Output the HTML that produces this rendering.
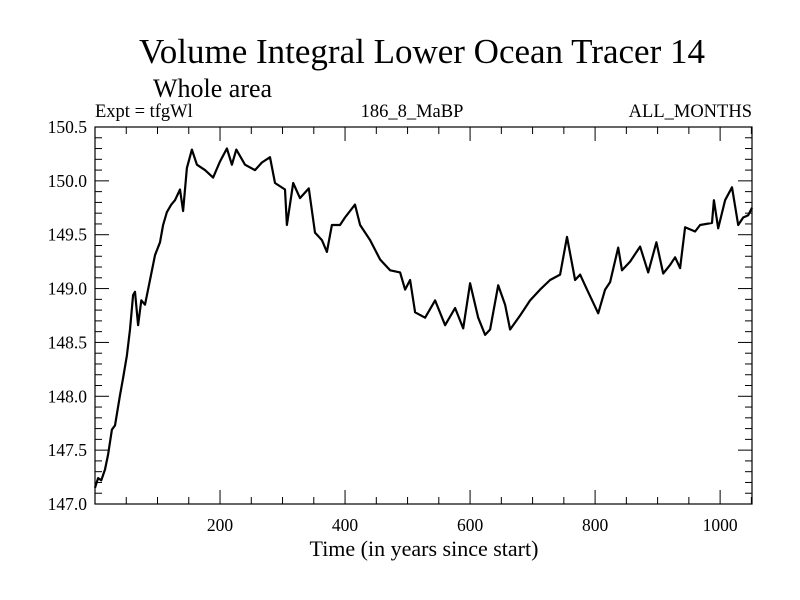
<!DOCTYPE html>
<html><head><meta charset="utf-8"><style>
html,body{margin:0;padding:0;background:#fff;}
svg{display:block;font-family:"Liberation Serif",serif;}
</style></head><body>
<svg id="chart" width="800" height="600" xmlns="http://www.w3.org/2000/svg">
<text x="422" y="63" font-size="35" text-anchor="middle">Volume Integral Lower Ocean Tracer 14</text>
<text x="153" y="97" font-size="26">Whole area</text>
<text x="95" y="117" font-size="18.5">Expt = tfgWl</text>
<text x="412" y="117" font-size="18.5" text-anchor="middle">186_8_MaBP</text>
<text x="752" y="117" font-size="18.5" text-anchor="end">ALL_MONTHS</text>
<text x="424" y="556" font-size="22" text-anchor="middle">Time (in years since start)</text>
<g id="axes"></g>
<path id="series" fill="none" stroke="#000" stroke-width="2.2" stroke-linejoin="round"/>
<rect x="95" y="127" width="657" height="377" fill="none" stroke="#000" stroke-width="1.2"/>
</svg>
<script>
const years=[0,5,10,16,21,27,32,40,45,51,56,61,64,69,74,80,88,96,104,109,115,122,128,136,141,147,155,163,176,189,200,211,219,226,240,256,267,280,288,304,307,317,328,342,352,363,371,379,392,400,416,424,440,456,472,488,496,504,512,528,544,560,576,589,600,613,624,632,645,656,664,680,696,712,728,744,755,768,776,787,805,816,824,837,843,856,872,885,898,909,920,928,936,944,960,968,987,990,997,1008,1019,1029,1037,1045,1051];
const values=[147.15,147.24,147.22,147.32,147.46,147.69,147.73,148.01,148.17,148.38,148.62,148.94,148.97,148.66,148.89,148.85,149.08,149.31,149.43,149.59,149.71,149.78,149.82,149.92,149.72,150.12,150.29,150.15,150.10,150.03,150.18,150.30,150.15,150.29,150.15,150.10,150.17,150.22,149.98,149.92,149.59,149.98,149.84,149.93,149.52,149.45,149.34,149.59,149.59,149.66,149.78,149.59,149.45,149.27,149.17,149.15,148.99,149.08,148.78,148.73,148.89,148.66,148.82,148.63,149.05,148.73,148.57,148.62,149.03,148.85,148.62,148.75,148.89,148.99,149.08,149.13,149.48,149.08,149.13,148.99,148.77,148.99,149.06,149.38,149.17,149.25,149.39,149.15,149.43,149.14,149.22,149.29,149.19,149.57,149.53,149.59,149.61,149.82,149.56,149.82,149.94,149.59,149.66,149.68,149.75];
const xTickLabels=[200,400,600,800,1000];
const yTickLabels=[147.0,147.5,148.0,148.5,149.0,149.5,150.0,150.5];
const X0=95,X1=752,Y0=504,Y1=127,XMIN=0,XMAX=1051,YMIN=147,YMAX=150.5;
const sx=v=>X0+(v-XMIN)/(XMAX-XMIN)*(X1-X0);
const sy=v=>Y0-(v-YMIN)/(YMAX-YMIN)*(Y0-Y1);
const NS="http://www.w3.org/2000/svg";
const axes=document.getElementById('axes');
function line(x1,y1,x2,y2,name){const l=document.createElementNS(NS,'line');
l.setAttribute('x1',x1);l.setAttribute('y1',y1);l.setAttribute('x2',x2);l.setAttribute('y2',y2);
l.setAttribute('stroke','#000');l.setAttribute('stroke-width','1');


axes.appendChild(l);}
function text(x,y,s,anchor,name){const t=document.createElementNS(NS,'text');
t.setAttribute('x',x);t.setAttribute('y',y);t.setAttribute('font-size','17.5');t.setAttribute('text-anchor',anchor);t.textContent=s;


axes.appendChild(t);}
for(let v=50;v<XMAX;v+=50){const x=sx(v);const L=(v%200===0)?14:7;
line(x,Y0,x,Y0-L,'x-tick');line(x,Y1,x,Y1+L,'x-tick-top');}
xTickLabels.forEach(v=>text(sx(v),531,String(v),'middle','x-tick-label'));
for(let i=0;i<=35;i++){const v=YMIN+i*0.1;const y=sy(v);const L=(i%5===0)?14:7;
line(X0,y,X0+L,y,'y-tick');line(X1,y,X1-L,y,'y-tick-right');}
yTickLabels.forEach(v=>text(87,sy(v)+6,v.toFixed(1),'end','y-tick-label'));
let d='';years.forEach((y,i)=>{d+=(i?'L':'M')+sx(y).toFixed(1)+','+sy(values[i]).toFixed(1);});
document.getElementById('series').setAttribute('d',d);
</script>
</body></html>
